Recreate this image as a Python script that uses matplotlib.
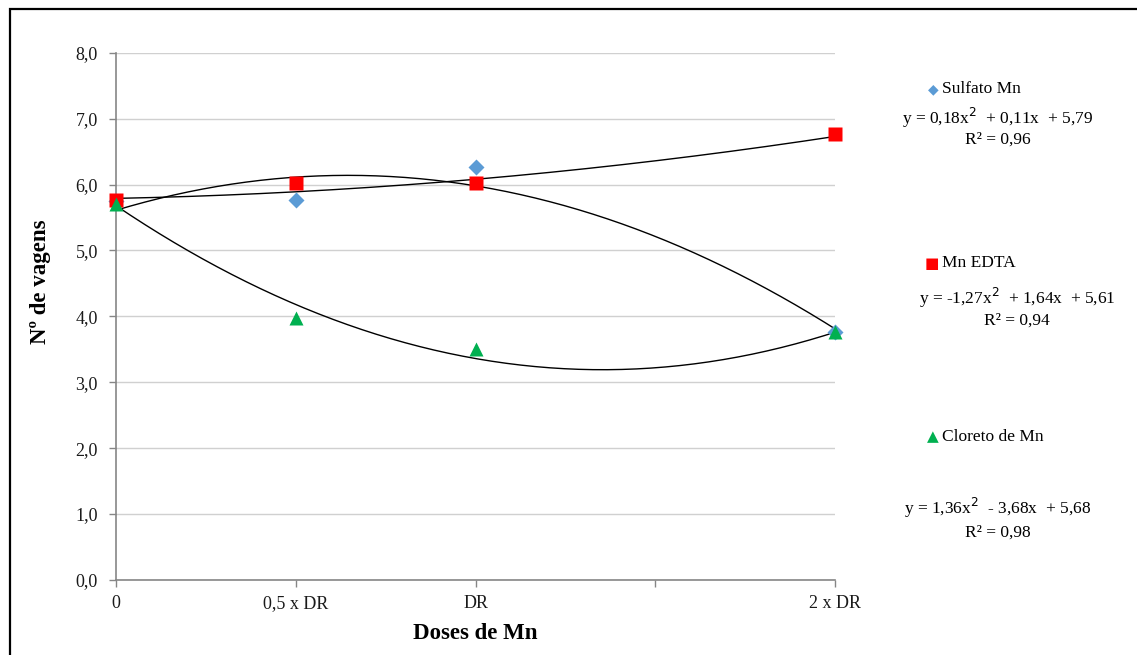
import numpy as np
import matplotlib
matplotlib.use('Agg')
import matplotlib.pyplot as plt
from matplotlib.patches import Rectangle

plt.rcParams['font.family'] = ['Liberation Serif', 'DejaVu Serif']

# doses (fraction of DR)
doses = [0, 0.5, 1, 2]
dose_labels = ['0', '0,5 x DR', 'DR', '', '2 x DR']

sulfato = [5.75, 5.76, 6.26, 3.76]
edta = [5.77, 6.02, 6.02, 6.77]
cloreto = [5.71, 3.98, 3.50, 3.76]

# trendline coefficients as printed on the chart (a, b, c)
coef_sulfato = [0.18, 0.11, 5.79]
coef_edta = [-1.27, 1.64, 5.61]
coef_cloreto = [1.36, -3.68, 5.68]

fig = plt.figure(figsize=(11.37, 6.55), dpi=100)
ax = fig.add_axes([0.102, 0.1145, 0.6325, 0.805])

xs = np.linspace(0, 2, 200)
for c in (coef_sulfato, coef_edta, coef_cloreto):
    ax.plot(xs, np.polyval(c, xs), color='black', lw=1.0, zorder=2)

ax.plot(doses, sulfato, 'D', color='#5B9BD5', ms=8, mec='none', zorder=3, clip_on=False)
ax.plot(doses, edta, 's', color='#FF0000', ms=10, mec='none', zorder=3, clip_on=False)
ax.plot(doses, cloreto, '^', color='#00B050', ms=10, mec='none', zorder=4, clip_on=False)

ax.set_xlim(0, 2)
ax.set_ylim(0, 8)
ax.set_xticks([0, 0.5, 1, 1.5, 2])
ax.set_xticklabels(dose_labels)
ax.set_yticks(np.arange(0, 8.1, 1))
ax.set_yticklabels([f'{v:.1f}'.replace('.', ',') for v in np.arange(0, 8.1, 1)])
ax.tick_params(axis='both', colors='#868686', labelcolor='#1a1a1a', labelsize=13,
               length=5, width=1, direction='out')
ax.tick_params(axis='x', pad=6)
ax.tick_params(axis='y', pad=8)
ax.yaxis.grid(True, color='#d0d0d0', lw=1)
ax.set_axisbelow(True)
for s in ('top', 'right'):
    ax.spines[s].set_visible(False)
for s in ('left', 'bottom'):
    ax.spines[s].set_color('#868686')
    ax.spines[s].set_linewidth(1.2)

ax.set_xlabel('Doses de Mn', fontsize=16.5, fontweight='bold')
ax.set_ylabel('Nº de vagens', fontsize=16.5, fontweight='bold')
ax.xaxis.set_label_coords(0.499, -0.0816)
ax.yaxis.set_label_coords(-0.090, 0.565)

# legend-like labels with equations
def fy(py):
    return 1 - py / 655

def fx(px):
    return px / 1137

fs = 12.5
fig.text(fx(933), fy(89), '\u25C6', color='#5B9BD5', fontsize=10, ha='center', va='center',
         family=['DejaVu Sans'])
fig.text(fx(942), fy(89), 'Sulfato Mn', fontsize=fs, va='center')
fig.text(fx(998), fy(118), 'y = 0,18x$^{2}$  + 0,11x  + 5,79', fontsize=fs, ha='center', va='center')
fig.text(fx(998), fy(140), 'R² = 0,96', fontsize=fs, ha='center', va='center')

fig.text(fx(932), fy(263), '\u25A0', color='#FF0000', fontsize=11, ha='center', va='center',
         family=['DejaVu Sans'])
fig.text(fx(942), fy(263), 'Mn EDTA', fontsize=fs, va='center')
fig.text(fx(1017), fy(298), 'y = -1,27x$^{2}$  + 1,64x  + 5,61', fontsize=fs, ha='center', va='center')
fig.text(fx(1017), fy(321), 'R² = 0,94', fontsize=fs, ha='center', va='center')

fig.text(fx(933), fy(437), '\u25B2', color='#00B050', fontsize=11, ha='center', va='center',
         family=['DejaVu Sans'])
fig.text(fx(942), fy(437), 'Cloreto de Mn', fontsize=fs, va='center')
fig.text(fx(998), fy(508), 'y = 1,36x$^{2}$  - 3,68x  + 5,68', fontsize=fs, ha='center', va='center')
fig.text(fx(998), fy(533), 'R² = 0,98', fontsize=fs, ha='center', va='center')

# outer frame
fig.patches.append(Rectangle((fx(10), -0.05), 1.2, fy(9) + 0.05, transform=fig.transFigure,
                             fill=False, ec='black', lw=1.6))

fig.savefig('out.png', dpi=100)
